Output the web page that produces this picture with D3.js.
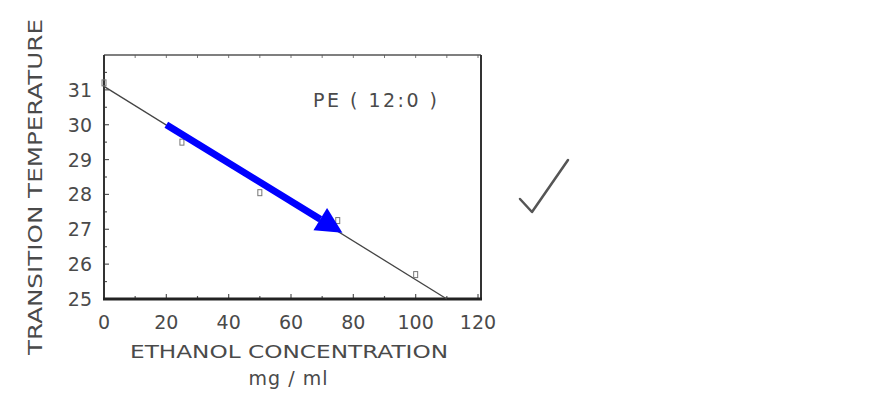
<!DOCTYPE html>
<html>
<head>
<meta charset="utf-8">
<script src="https://cdn.jsdelivr.net/npm/d3@7"></script>
<style>
    html, body { margin: 0; padding: 0; background: #fff; }
    text { font-family: "DejaVu Sans", sans-serif; fill: #4a4a4a; }
</style>
</head>
<body>
<svg id="chart" width="882" height="396"></svg>
<script>
// values
var concentration = [0, 25, 50, 75, 100];
var temperature = [31.2, 29.5, 28.05, 27.25, 25.7];
var fitX = [0, 110];
var fitY = [31.1, 25];
var xTicks = [0, 20, 40, 60, 80, 100, 120];
var xMinorTicks = [10, 30, 50, 70, 90, 110];
var yTicks = [25, 26, 27, 28, 29, 30, 31];
var yMinorTicks = [25.5, 26.5, 27.5, 28.5, 29.5, 30.5, 31.5];
var arrowFrom = [20, 30];
var arrowTo = [76.5, 26.9];

var svg = d3.select('#chart');
var plotL = 104, plotR = 481, plotT = 55, plotB = 299;

var x = d3.scaleLinear().domain([0, 120]).range([plotL, plotR - 3]);
var y = d3.scaleLinear().domain([25, 32]).range([plotB, plotT]);

// inward ticks
var g = svg.append('g');
g.selectAll('line.ytick').data(yTicks.concat(yMinorTicks)).enter().append('line')
    .attr('x1', plotL).attr('x2', function (d) { return plotL + (d % 1 ? 3 : 5); })
    .attr('y1', function (d) { return y(d); }).attr('y2', function (d) { return y(d); })
    .style('stroke', '#555').style('stroke-width', 1.2);
g.selectAll('line.xtick').data(xTicks.concat(xMinorTicks)).enter().append('line')
    .attr('x1', function (d) { return x(d); }).attr('x2', function (d) { return x(d); })
    .attr('y1', plotB).attr('y2', function (d) { return plotB - (d % 20 ? 3 : 5); })
    .style('stroke', '#555').style('stroke-width', 1.2);
g.selectAll('line.ttick').data(xTicks.concat(xMinorTicks)).enter().append('line')
    .attr('x1', function (d) { return x(d); }).attr('x2', function (d) { return x(d); })
    .attr('y1', plotT).attr('y2', plotT + 3)
    .style('stroke', '#777').style('stroke-width', 1);

// frame
svg.append('line').attr('x1', plotL).attr('x2', plotR).attr('y1', plotT).attr('y2', plotT)
    .style('stroke', '#555').style('stroke-width', 1.5);
svg.append('line').attr('x1', plotL).attr('x2', plotL).attr('y1', plotT).attr('y2', plotB)
    .style('stroke', '#333').style('stroke-width', 2);
svg.append('line').attr('x1', plotR).attr('x2', plotR).attr('y1', plotT).attr('y2', plotB)
    .style('stroke', '#333').style('stroke-width', 2);
svg.append('line').attr('x1', plotL - 1).attr('x2', plotR + 1).attr('y1', plotB).attr('y2', plotB)
    .style('stroke', '#222').style('stroke-width', 3);

// tick labels
svg.selectAll('text.ylab').data(yTicks).enter().append('text')
    .attr('x', 92).attr('y', function (d) { return y(d) + 7; })
    .style('text-anchor', 'end').style('font-size', '19px')
    .text(function (d) { return d; });
svg.selectAll('text.xlab').data(xTicks).enter().append('text')
    .attr('x', function (d) { return x(d); }).attr('y', 329)
    .style('text-anchor', 'middle').style('font-size', '19px')
    .text(function (d) { return d; });

// axis titles
svg.append('text')
    .attr('transform', 'translate(42,187) rotate(-90)')
    .style('text-anchor', 'middle').style('font-size', '19px')
    .attr('textLength', 336).attr('lengthAdjust', 'spacingAndGlyphs')
    .text('TRANSITION  TEMPERATURE');
svg.append('text')
    .attr('x', 289).attr('y', 358)
    .style('text-anchor', 'middle').style('font-size', '18px')
    .attr('textLength', 318).attr('lengthAdjust', 'spacingAndGlyphs')
    .text('ETHANOL  CONCENTRATION');
svg.append('text')
    .attr('x', 288).attr('y', 385)
    .style('text-anchor', 'middle').style('font-size', '19px')
    .attr('textLength', 79).attr('lengthAdjust', 'spacing')
    .text('mg / ml');

svg.append('text')
    .attr('x', 375).attr('y', 107)
    .style('text-anchor', 'middle').style('font-size', '19px')
    .attr('textLength', 124).attr('lengthAdjust', 'spacing')
    .text('PE ( 12:0 )');

// fit line
svg.append('line')
    .attr('x1', x(fitX[0])).attr('y1', y(fitY[0]))
    .attr('x2', x(fitX[1])).attr('y2', y(fitY[1]))
    .style('stroke', '#444').style('stroke-width', 1.3);

// data marks
svg.selectAll('rect.pt').data(concentration).enter().append('rect')
    .attr('x', function (d) { return x(d) - 2; })
    .attr('y', function (d, i) { return y(temperature[i]) - 3; })
    .attr('width', 4).attr('height', 6)
    .style('fill', 'none').style('stroke', '#777').style('stroke-width', 1);

// blue arrow
var x0 = x(arrowFrom[0]), y0 = y(arrowFrom[1]);
var x1 = x(arrowTo[0]), y1 = y(arrowTo[1]);
var ang = Math.atan2(y1 - y0, x1 - x0);
var headLen = 26, headW = 13;
var bx = x1 - headLen * Math.cos(ang), by = y1 - headLen * Math.sin(ang);
svg.append('line')
    .attr('x1', x0).attr('y1', y0).attr('x2', bx).attr('y2', by)
    .style('stroke', '#0000ff').style('stroke-width', 7);
svg.append('path')
    .attr('d', 'M' + x1 + ',' + y1 +
        'L' + (bx + headW * Math.sin(ang)) + ',' + (by - headW * Math.cos(ang)) +
        'L' + (bx - headW * Math.sin(ang)) + ',' + (by + headW * Math.cos(ang)) + 'Z')
    .style('fill', '#0000ff');

// check mark beside the chart
svg.append('path')
    .attr('d', 'M520,199 L532,212 L568,160')
    .style('fill', 'none').style('stroke', '#555').style('stroke-width', 2.5)
    .style('stroke-linecap', 'round').style('stroke-linejoin', 'round');
</script>
</body>
</html>
